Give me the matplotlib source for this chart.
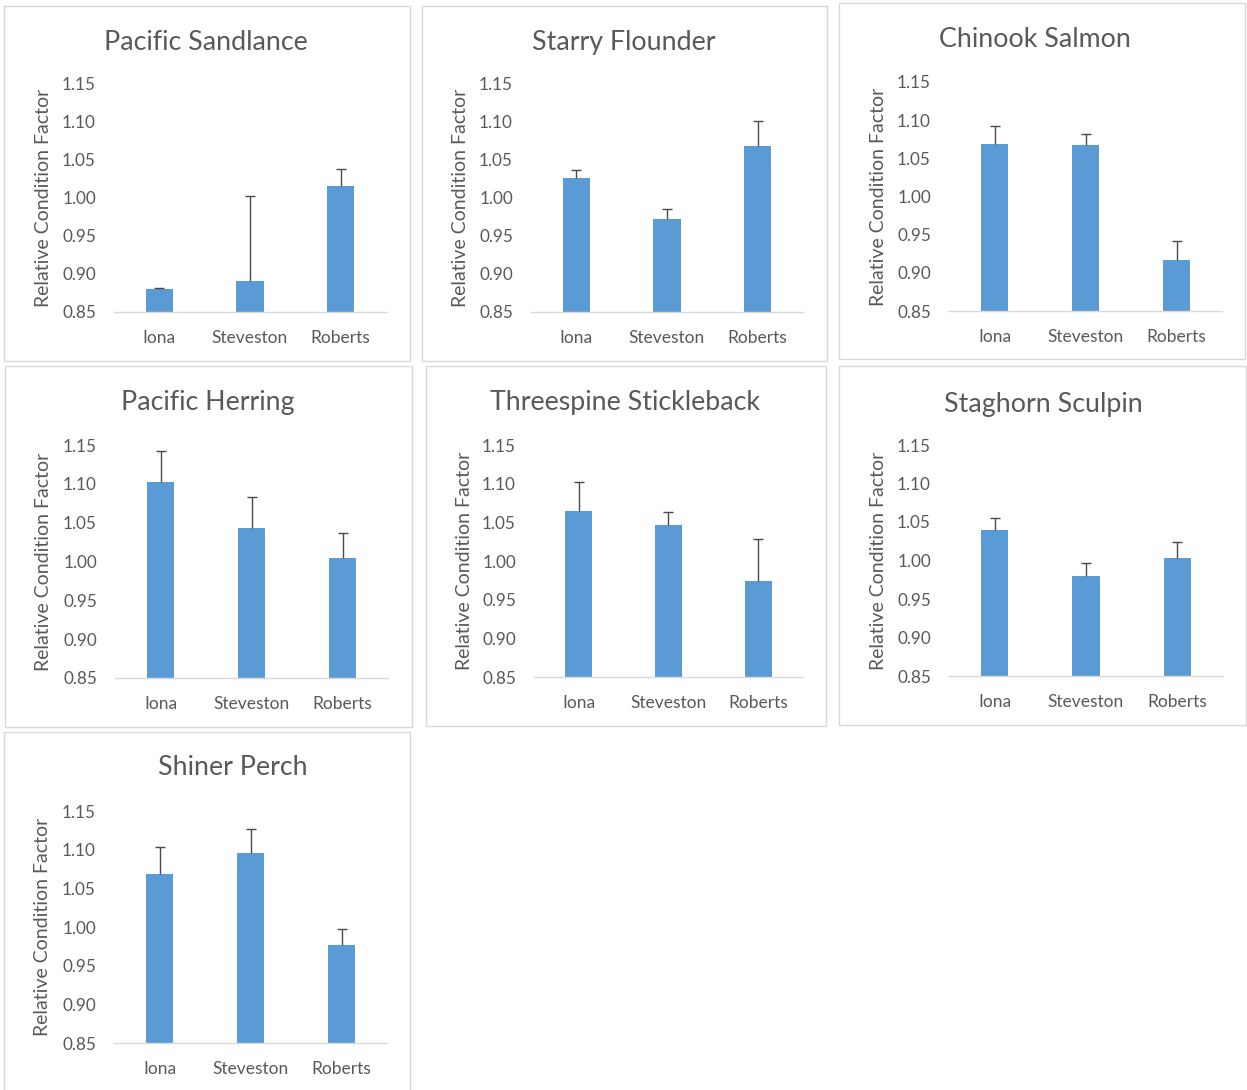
import matplotlib
matplotlib.use("Agg")
import matplotlib.pyplot as plt
from matplotlib.patches import Rectangle

# Relative condition factor by sampling site, with upper standard error
sites = ["Iona", "Steveston", "Roberts"]
species = ["Pacific Sandlance", "Starry Flounder", "Chinook Salmon",
           "Pacific Herring", "Threespine Stickleback", "Staghorn Sculpin",
           "Shiner Perch"]

sandlance_mean = [0.880, 0.890, 1.015]
sandlance_err = [0.001, 0.112, 0.022]
flounder_mean = [1.026, 0.973, 1.069]
flounder_err = [0.011, 0.013, 0.032]
chinook_mean = [1.069, 1.068, 0.917]
chinook_err = [0.024, 0.014, 0.025]
herring_mean = [1.102, 1.043, 1.005]
herring_err = [0.040, 0.040, 0.032]
stickleback_mean = [1.065, 1.046, 0.974]
stickleback_err = [0.037, 0.018, 0.055]
sculpin_mean = [1.040, 0.980, 1.003]
sculpin_err = [0.015, 0.017, 0.021]
perch_mean = [1.069, 1.096, 0.977]
perch_err = [0.035, 0.031, 0.020]

y_ticks = [0.85, 0.90, 0.95, 1.00, 1.05, 1.10, 1.15]
y_tick_labels = ["0.85", "0.90", "0.95", "1.00", "1.05", "1.10", "1.15"]
y_label = "Relative Condition Factor"

means = [sandlance_mean, flounder_mean, chinook_mean, herring_mean,
         stickleback_mean, sculpin_mean, perch_mean]
errs = [sandlance_err, flounder_err, chinook_err, herring_err,
        stickleback_err, sculpin_err, perch_err]

W, H = 1247, 1090
DPI = 100
fig = plt.figure(figsize=(W / DPI, H / DPI), dpi=DPI)
fig.patch.set_facecolor("white")

FONT = "Lato"
TEXT = "#595959"
BAR = "#5b9bd5"
ERR = "#4a4a4a"
FRAME = "#d9d9d9"

# panel layout in pixels: plot area (left, right, top, bottom), frame box,
# title baseline position, y-label x centre
plot_px = [
    (114, 386, 83, 312),
    (531, 803, 84, 312),
    (949, 1222, 82, 311),
    (115, 388, 445, 678),
    (534, 803, 445, 677),
    (949, 1223, 445, 676),
    (114, 387, 811, 1043),
]
frame_px = [
    (4, 410, 6, 361),
    (422, 827, 6, 361),
    (839, 1245, 3, 359),
    (5, 412, 366, 727),
    (426, 826, 366, 726),
    (839, 1246, 366, 725),
    (4, 410, 732, 1100),
]
title_px = [
    (206, 50), (624, 50), (1035, 47),
    (208, 410), (625, 410), (1043, 412),
    (233, 775),
]
ylabel_x = [44, 461, 879, 44, 464, 878, 43]


def fx(px):
    return px / W


def fy(py):
    return 1 - py / H


for i in range(len(species)):
    l, r, t, b = plot_px[i]
    ax = fig.add_axes([fx(l), fy(b), fx(r) - fx(l), fy(t) - fy(b)])
    x = list(range(len(sites)))
    tops = [m + e for m, e in zip(means[i], errs[i])]
    ax.bar(x, means[i], width=0.3, color=BAR, zorder=2)
    # plus-direction error bars: stem from bar top, cap at mean + error
    ax.errorbar(x, means[i], yerr=[[0] * len(sites), errs[i]], fmt="none",
                ecolor=ERR, elinewidth=1.0, capsize=0, zorder=3)
    ax.plot(x, tops, linestyle="none", marker="_", markersize=7.5,
            markeredgewidth=1.0, color=ERR, zorder=3)
    ax.set_xlim(-0.5, len(sites) - 0.5)
    ax.set_ylim(0.85, 1.15)
    ax.set_xticks(x)
    ax.set_xticklabels(sites, fontsize=12.5, color=TEXT, family=FONT)
    ax.set_yticks(y_ticks)
    ax.set_yticklabels(y_tick_labels, fontsize=12.3, color=TEXT, family=FONT)
    ax.tick_params(axis="both", length=0)
    ax.tick_params(axis="y", pad=13)
    ax.tick_params(axis="x", pad=13)
    for s in ["top", "right", "left"]:
        ax.spines[s].set_visible(False)
    ax.spines["bottom"].set_color(FRAME)
    ax.spines["bottom"].set_linewidth(1.0)
    ax.spines["bottom"].set_zorder(4)
    ax.set_facecolor("none")

    tx, ty = title_px[i]
    fig.text(fx(tx), fy(ty), species[i], ha="center", va="baseline",
             fontsize=19.3, color=TEXT, family=FONT)
    fig.text(fx(ylabel_x[i]), fy((t + b) / 2), y_label, ha="center",
             va="center", rotation=90, fontsize=14, color=TEXT, family=FONT)

    fl, fr, ft, fb = frame_px[i]
    fig.patches.append(Rectangle((fx(fl), fy(fb)), fx(fr) - fx(fl),
                                 fy(ft) - fy(fb), transform=fig.transFigure,
                                 fill=False, edgecolor=FRAME, linewidth=1.0))

fig.savefig("out.png", dpi=DPI, facecolor="white")
